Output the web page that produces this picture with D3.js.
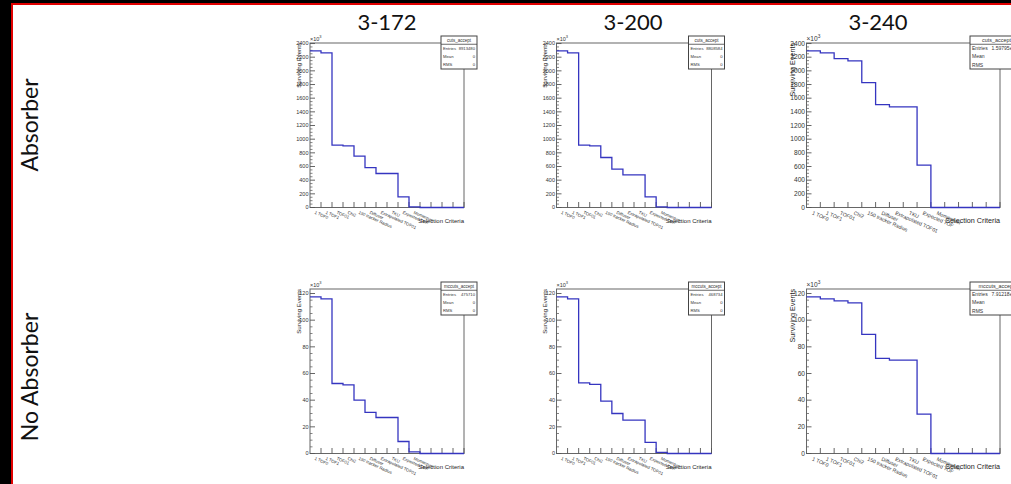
<!DOCTYPE html>
<html>
<head>
<meta charset="utf-8">
<script src="https://cdn.jsdelivr.net/npm/d3@7"></script>
<style>
  html, body { margin: 0; padding: 0; background: #000; }
  svg { display: block; }
</style>
</head>
<body>
<svg id="chart" width="1011" height="484"></svg>
<script>
// Surviving events after each selection cut, in units of 10^3.
const runs = ["3-172", "3-200", "3-240"];
const setups = ["Absorber", "No Absorber"];
const binLabels = ["1 TOF0", "1 TOF1", "TOF01", "Chi2", "150 tracker Radius", "Diffuser",
  "Extrapolated TOF01", "TKU", "Expected TOF", "Momentum", "", "", "", ""];

const absorber172 = [2293, 2263, 912, 902, 751, 585, 498, 498, 156, 10, 0, 0, 0, 0];
const absorber200 = [2293, 2263, 912, 902, 732, 561, 478, 478, 156, 10, 0, 0, 0, 0];
const absorber240 = [2293, 2263, 2180, 2146, 1829, 1507, 1473, 1473, 620, 0, 0, 0, 0, 0];
const noAbsorber172 = [117.5, 116, 52.5, 51.5, 40, 30.8, 27, 27, 9, 1.2, 0, 0, 0, 0];
const noAbsorber200 = [117.5, 116, 53, 51.8, 39.3, 30, 25, 25, 8.3, 0.8, 0, 0, 0, 0];
const noAbsorber240 = [117.5, 116, 114.5, 113, 89.3, 71.3, 70, 70, 29.5, 0, 0, 0, 0, 0];

const absorberTicks = d3.range(0, 2401, 200);
const noAbsorberTicks = d3.range(0, 121, 20);
const histNames = ["cuts_accept", "mccuts_accept"];
const absorberEntries = ["8913480", "8808584", "1.59795e+07"];
const noAbsorberEntries = ["475710", "468734", "7.91218e+06"];

const counts = [[absorber172, absorber200, absorber240], [noAbsorber172, noAbsorber200, noAbsorber240]];
const tickSets = [absorberTicks, noAbsorberTicks];
const entries = [absorberEntries, noAbsorberEntries];

// frame positions of the 2x3 grid of pads
const COL_X = [[310, 464], [556.5, 711.5], [806.5, 1000]];
const ROW_Y = [[43, 207.5], [289, 453.5]];
const TITLE_X = [387, 633, 878];
const SANS = "'Liberation Sans', Arial, sans-serif";

const svg = d3.select("#chart");

// slide background: white area with a red outline, black outside
svg.append("rect")
  .attr("x", 12).attr("y", 4).attr("width", 1010).attr("height", 490)
  .attr("fill", "#fff").attr("stroke", "#e00000").attr("stroke-width", 2);

svg.selectAll("text.run")
  .data(runs)
  .join("text")
  .attr("class", "run")
  .attr("x", (d, i) => TITLE_X[i])
  .attr("y", 30)
  .attr("text-anchor", "middle")
  .style("font-family", "Lato, sans-serif")
  .style("font-size", "22px")
  .attr("fill", "#111")
  .text((d) => d);

svg.selectAll("text.setup")
  .data(setups)
  .join("text")
  .attr("class", "setup")
  .attr("transform", (d, i) => `translate(38,${i === 0 ? 125 : 377}) rotate(-90)`)
  .attr("text-anchor", "middle")
  .style("font-family", "Lato, sans-serif")
  .style("font-size", "23px")
  .attr("fill", "#111")
  .text((d) => d);

function drawPanel(row, col) {
  const values = counts[row][col];
  const ticks = tickSets[row];
  const [left, right] = COL_X[col];
  const [top, bottom] = ROW_Y[row];
  const k = col === 2 ? 1.2 : 1; // the wider pad has bigger text
  const g = svg.append("g");

  const x = d3.scaleLinear().domain([0, values.length]).range([left, right]);
  const y = d3.scaleLinear().domain([0, d3.max(values) * 1.05]).range([bottom, top]);

  // frame
  g.append("rect")
    .attr("x", left).attr("y", top)
    .attr("width", right - left).attr("height", bottom - top)
    .attr("fill", "none").attr("stroke", "#666").attr("stroke-width", 1);

  // y axis ticks (major + minor), drawn inside the frame
  const step = ticks[1] - ticks[0];
  const minors = d3.range(0, y.domain()[1], step / 4).filter((v) => v % step !== 0);
  g.selectAll("line.ymin").data(minors).join("line")
    .attr("x1", left).attr("x2", left + 2.5)
    .attr("y1", (d) => y(d)).attr("y2", (d) => y(d))
    .attr("stroke", "#666").attr("stroke-width", 0.8);
  g.selectAll("line.ymaj").data(ticks).join("line")
    .attr("x1", left).attr("x2", left + 5)
    .attr("y1", (d) => y(d)).attr("y2", (d) => y(d))
    .attr("stroke", "#555").attr("stroke-width", 0.9);
  g.selectAll("text.ylab").data(ticks).join("text")
    .attr("x", left - 1.5)
    .attr("y", (d) => y(d))
    .attr("dy", "0.35em")
    .attr("text-anchor", "end")
    .style("font-family", SANS)
    .style("font-size", (5.5 * k) + "px")
    .attr("fill", "#333")
    .text((d) => d);

  // x axis: one tick per bin edge
  g.selectAll("line.xt").data(d3.range(1, values.length + 1)).join("line")
    .attr("x1", (d) => x(d)).attr("x2", (d) => x(d))
    .attr("y1", bottom).attr("y2", bottom - 5.5)
    .attr("stroke", "#555").attr("stroke-width", 0.9);
  g.selectAll("text.xlab").data(binLabels.filter((l) => l)).join("text")
    .attr("transform", (d, i) => `translate(${x(i + 0.5)},${bottom + 3}) rotate(24)`)
    .attr("dominant-baseline", "hanging")
    .style("font-family", SANS)
    .style("font-size", (4.3 * k) + "px")
    .attr("fill", "#333")
    .text((d) => d);

  // axis titles
  g.append("text")
    .attr("x", right).attr("y", bottom + 15)
    .attr("text-anchor", "end")
    .style("font-family", SANS)
    .style("font-size", (6 * k) + "px")
    .attr("fill", "#222")
    .text("Selection Criteria");
  g.append("text")
    .attr("transform", `translate(${left - 9.5 * k},${top}) rotate(-90)`)
    .attr("text-anchor", "end")
    .style("font-family", SANS)
    .style("font-size", (6 * k) + "px")
    .attr("fill", "#222")
    .text("Surviving Events");
  const exp = g.append("text")
    .attr("x", left).attr("y", top - 2.5)
    .style("font-family", SANS)
    .style("font-size", (5.5 * k) + "px")
    .attr("fill", "#333");
  exp.append("tspan").text("\u00d710");
  exp.append("tspan").attr("dy", -2.5).style("font-size", (4 * k) + "px").text("3");

  // histogram outline
  const pts = values.map((v, i) => [i, v]).concat([[values.length, values[values.length - 1]]]);
  g.append("path")
    .attr("d", d3.line().x((d) => x(d[0])).y((d) => y(d[1])).curve(d3.curveStepAfter)(pts))
    .attr("fill", "none")
    .attr("stroke", "#3535c0")
    .attr("stroke-width", 1.3);

  // stats box (the right-hand one runs off the slide, as in the original)
  const bw = col === 2 ? 53 : 36;
  const bx = right - (col === 2 ? 30 : 23);
  const by = top - 7;
  const bh = 33;
  const rh = bh / 4;
  const box = g.append("g");
  box.append("rect")
    .attr("x", bx).attr("y", by).attr("width", bw).attr("height", bh)
    .attr("fill", "#fff").attr("stroke", "#444").attr("stroke-width", 1);
  box.append("line")
    .attr("x1", bx).attr("x2", bx + bw)
    .attr("y1", by + rh).attr("y2", by + rh)
    .attr("stroke", "#444").attr("stroke-width", 0.8);
  const fs = (4.2 * k) + "px";
  box.append("text")
    .attr("x", bx + bw / 2).attr("y", by + rh / 2).attr("dy", "0.35em")
    .attr("text-anchor", "middle")
    .style("font-family", SANS).style("font-size", (4.5 * k) + "px").attr("fill", "#333")
    .text(histNames[row]);
  const rows = [["Entries", entries[row][col]], ["Mean", "0"], ["RMS", "0"]];
  rows.forEach((r, i) => {
    const cy = by + rh * (i + 1.5);
    box.append("text")
      .attr("x", bx + 2).attr("y", cy).attr("dy", "0.35em")
      .style("font-family", SANS).style("font-size", fs).attr("fill", "#333")
      .text(r[0]);
    box.append("text")
      .attr("x", bx + bw - 2).attr("y", cy).attr("dy", "0.35em")
      .attr("text-anchor", "end")
      .style("font-family", SANS).style("font-size", fs).attr("fill", "#333")
      .text(r[1]);
  });
}

for (let r = 0; r < 2; r++) {
  for (let c = 0; c < 3; c++) drawPanel(r, c);
}
</script>
</body>
</html>
